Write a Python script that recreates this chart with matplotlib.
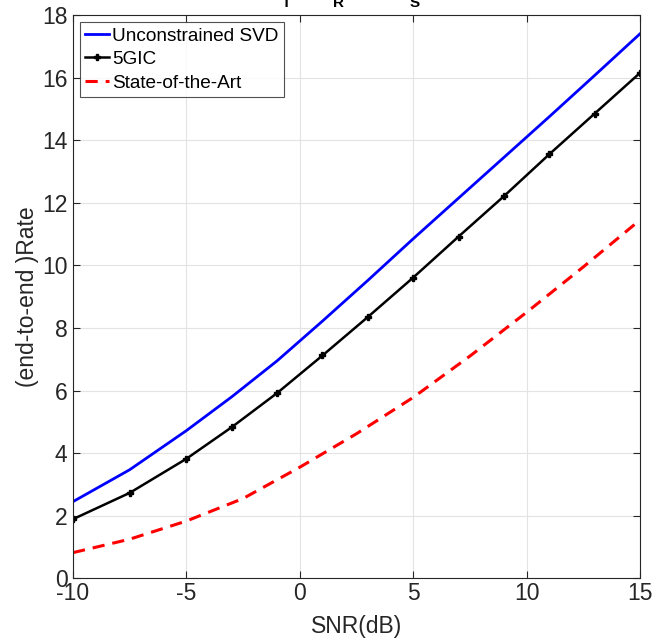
import matplotlib
matplotlib.use('Agg')
import matplotlib.pyplot as plt

# SNR points and achievable rates
snr_db = [-10, -7.5, -5, -3, -1, 1, 3, 5, 7, 9, 11, 13, 15]
rate_svd = [2.45, 3.47, 4.72, 5.8, 6.95, 8.22, 9.52, 10.85, 12.15, 13.45, 14.75, 16.07, 17.4]
rate_5gic = [1.89, 2.73, 3.82, 4.83, 5.92, 7.12, 8.35, 9.61, 10.92, 12.21, 13.55, 14.85, 16.15]

snr_sota = [-10, -7.5, -5, -2.5, 0, 2.5, 5, 7.5, 10, 12.5, 15]
rate_sota = [0.82, 1.25, 1.83, 2.55, 3.55, 4.62, 5.78, 7.1, 8.5, 9.95, 11.45]

x_ticks = [-10, -5, 0, 5, 10, 15]
y_ticks = [0, 2, 4, 6, 8, 10, 12, 14, 16, 18]

# title pieces: (normal text, subscript)
title_parts = [('N', 'T'), (' = N', 'R'), (' = 4, N', 'S'), (' = 2', '')]

plt.rcParams['font.family'] = ['Liberation Sans', 'DejaVu Sans']
plt.rcParams['axes.unicode_minus'] = False

fig = plt.figure(figsize=(6.52, 6.39), dpi=100)
ax = fig.add_axes([0.112, 0.095, 0.8696, 0.8815])

ax.plot(snr_db, rate_svd, color='#0000ff', linewidth=2.0, label='Unconstrained SVD')
ax.plot(snr_db, rate_5gic, color='black', linewidth=1.8, marker='P', markersize=5,
        label='5GIC')
ax.plot(snr_sota, rate_sota, color='#ff0000', linewidth=2.2, linestyle=(0, (4, 2.6)),
        label='State-of-the-Art')

ax.set_xlim(-10, 15)
ax.set_ylim(0, 18)
ax.set_xticks(x_ticks)
ax.set_yticks(y_ticks)
ax.grid(True, color='#e3e3e3', linewidth=0.8)
ax.set_axisbelow(True)

edge = '#262626'
for s in ax.spines.values():
    s.set_color(edge)
    s.set_linewidth(0.8)
ax.tick_params(direction='in', length=5, width=0.8, colors=edge, labelsize=16.5,
               top=True, right=True, labelcolor='#262626')
ax.tick_params(axis='x', pad=3)
ax.tick_params(axis='y', pad=4)

ax.set_xlabel('SNR(dB)', fontsize=16.5, color='#262626', labelpad=7)
ax.set_ylabel('(end-to-end )Rate', fontsize=16.5, color='#262626', labelpad=2)

leg = ax.legend(loc='upper left', fontsize=13.7, frameon=True, fancybox=False,
                handlelength=1.25, handletextpad=0.15, borderpad=0.3,
                labelspacing=0.32, borderaxespad=0.35)
leg.get_frame().set_edgecolor(edge)
leg.get_frame().set_linewidth(0.8)

# bold title with subscripts, laid out piece by piece along the top edge
fig_h = fig.get_figheight() * fig.dpi
prev = None
for main, sub in title_parts:
    if prev is None:
        t = ax.annotate(main, xy=(266, fig_h + 6), xycoords='figure pixels',
                        fontsize=16, fontweight='bold', va='baseline', ha='left',
                        annotation_clip=False)
    else:
        t = ax.annotate(main, xy=(1, fig_h + 6), xycoords=(prev, 'figure pixels'),
                        fontsize=16, fontweight='bold', va='baseline', ha='left',
                        annotation_clip=False)
    prev = t
    if sub:
        prev = ax.annotate(sub, xy=(1, fig_h - 7), xycoords=(t, 'figure pixels'),
                           fontsize=11, fontweight='bold', va='baseline', ha='left',
                           annotation_clip=False)

fig.savefig('out.png', dpi=100)
